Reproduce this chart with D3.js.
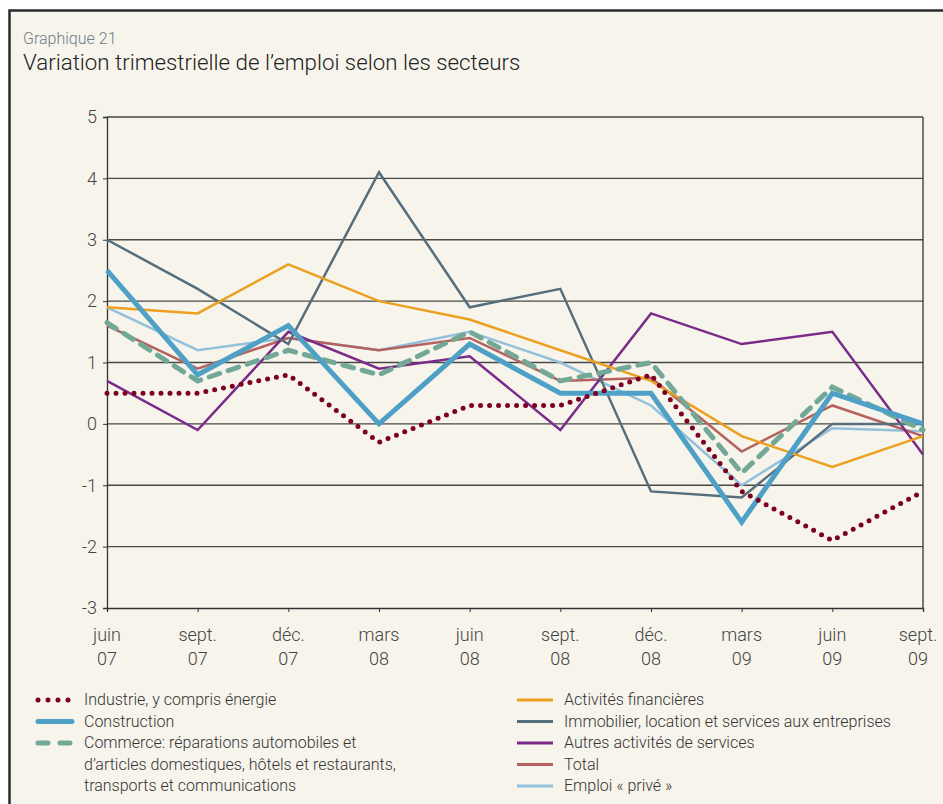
<!DOCTYPE html>
<html>
<head>
<meta charset="utf-8">
<script src="https://cdn.jsdelivr.net/npm/d3@7"></script>
<style>
  body { margin: 0; background: #fff; }
  svg text { font-family: Roboto, "Noto Sans", sans-serif; font-weight: 300; }
</style>
</head>
<body>
<svg class="viz"></svg>
<script>
var width = 943,
  height = 804;

var months = ["juin", "sept.", "déc.", "mars", "juin", "sept.", "déc.", "mars", "juin", "sept."];
var years = ["07", "07", "07", "08", "08", "08", "08", "09", "09", "09"];
var y_ticks = [5, 4, 3, 2, 1, 0, -1, -2, -3];

// series values, one per quarter
var industrie = [0.5, 0.5, 0.8, -0.3, 0.3, 0.3, 0.8, -1.1, -1.9, -1.1];
var construction = [2.5, 0.8, 1.6, 0.0, 1.3, 0.5, 0.5, -1.6, 0.5, 0.0];
var commerce = [1.65, 0.7, 1.2, 0.8, 1.5, 0.7, 1.0, -0.8, 0.6, -0.1];
var financieres = [1.9, 1.8, 2.6, 2.0, 1.7, 1.2, 0.7, -0.2, -0.7, -0.2];
var immobilier = [3.0, 2.2, 1.3, 4.1, 1.9, 2.2, -1.1, -1.2, 0.0, 0.0];
var autres = [0.7, -0.1, 1.5, 0.9, 1.1, -0.1, 1.8, 1.3, 1.5, -0.5];
var total = [1.6, 0.9, 1.4, 1.2, 1.4, 0.7, 0.75, -0.45, 0.3, -0.2];
var prive = [1.9, 1.2, 1.4, 1.2, 1.5, 1.0, 0.3, -1.0, -0.07, -0.12];

var series = [
  { name: "Emploi « privé »", values: prive, color: "#93c1dc", w: 2.5 },
  { name: "Total", values: total, color: "#b5615f", w: 2.5 },
  { name: "Autres activités de services", values: autres, color: "#7a2a88", w: 2.5 },
  { name: "Immobilier, location et services aux entreprises", values: immobilier, color: "#566e7c", w: 2.5 },
  { name: "Activités financières", values: financieres, color: "#eba020", w: 2.5 },
  { name: "Commerce", values: commerce, color: "#73a897", w: 5, dash: "11,9" },
  { name: "Construction", values: construction, color: "#4ea0c6", w: 5 },
  { name: "Industrie", values: industrie, color: "#7c0022", w: 5, dash: "0,9" }
];

var legend_left = [
  { lines: ["Industrie, y compris énergie"], color: "#7c0022", w: 5, dash: "0,10", len: 32 },
  { lines: ["Construction"], color: "#4ea0c6", w: 5, round: true, len: 34 },
  { lines: ["Commerce: réparations automobiles et", "d’articles domestiques, hôtels et restaurants,", "transports et communications"], color: "#73a897", w: 5, dash: "10,12", len: 36 }
];
var legend_right = [
  { lines: ["Activités financières"], color: "#eba020", w: 3, len: 36 },
  { lines: ["Immobilier, location et services aux entreprises"], color: "#566e7c", w: 3, len: 36 },
  { lines: ["Autres activités de services"], color: "#7a2a88", w: 3, len: 36 },
  { lines: ["Total"], color: "#b5615f", w: 3, len: 36 },
  { lines: ["Emploi « privé »"], color: "#93c1dc", w: 3, len: 36 }
];

var svg = d3.select(".viz").attr("width", width).attr("height", height);

// outer panel
svg.append("rect")
  .attr("x", 9.5).attr("y", 10.5)
  .attr("width", width + 20).attr("height", height + 20)
  .attr("fill", "#f7f4ec")
  .attr("stroke", "#2b2b2b").attr("stroke-width", 2.5);

svg.append("text").attr("x", 23).attr("y", 44)
  .attr("fill", "#6e7d87").style("font-size", "16px")
  .text("Graphique 21");
svg.append("text").attr("x", 23).attr("y", 70)
  .attr("fill", "#222").style("font-size", "22.3px")
  .text("Variation trimestrielle de l’emploi selon les secteurs");

var plot_left = 107, plot_right = 923, plot_top = 117, plot_bottom = 608;

var x = d3.scalePoint().domain(d3.range(months.length)).range([plot_left, plot_right]);
var y = d3.scaleLinear().domain([-3, 5]).range([plot_bottom, plot_top]);

// grid
svg.append("g").selectAll("line").data(y_ticks.filter(d => d > -3)).enter()
  .append("line")
  .attr("x1", plot_left).attr("x2", plot_right)
  .attr("y1", d => y(d)).attr("y2", d => y(d))
  .attr("stroke", "#4a4845").attr("stroke-width", 1.3);

// right border
svg.append("line").attr("x1", plot_right).attr("x2", plot_right)
  .attr("y1", plot_top).attr("y2", plot_bottom)
  .attr("stroke", "#333").attr("stroke-width", 1.3);

var yAxis = svg.append("g").attr("transform", "translate(" + plot_left + ",0)")
  .call(d3.axisLeft(y).tickValues(y_ticks).tickSize(4).tickPadding(6).tickFormat(d => d < 0 ? "-" + Math.abs(d) : d));
yAxis.select(".domain").attr("stroke", "#333").attr("stroke-width", 1.3);
yAxis.selectAll(".tick line").attr("stroke", "#333");
yAxis.selectAll(".tick text").attr("fill", "#444").style("font-size", "18px")
  .style("font-family", "Roboto, sans-serif").style("font-weight", 300);

var xAxis = svg.append("g").attr("transform", "translate(0," + plot_bottom + ")")
  .call(d3.axisBottom(x).tickSize(4).tickFormat(""));
xAxis.select(".domain").attr("stroke", "#333").attr("stroke-width", 1.3);
xAxis.selectAll(".tick line").attr("stroke", "#333");

var xl = svg.append("g").selectAll("text").data(months).enter()
  .append("text")
  .attr("text-anchor", "middle")
  .attr("fill", "#444").style("font-size", "18px")
  .attr("x", (d, i) => x(i) - (i == months.length - 1 ? 5 : 0));
xl.append("tspan").attr("y", 641).text(d => d);
xl.append("tspan").attr("y", 665)
  .attr("x", (d, i) => x(i) - (i == months.length - 1 ? 5 : 0))
  .text((d, i) => years[i]);

var line = d3.line().x((d, i) => x(i)).y(d => y(d));

svg.append("g").selectAll("path").data(series).enter()
  .append("path")
  .attr("d", d => line(d.values))
  .attr("fill", "none")
  .attr("stroke", d => d.color)
  .attr("stroke-width", d => d.w)
  .attr("stroke-dasharray", d => d.dash || null)
  .attr("stroke-linecap", d => d.dash ? "round" : "butt")
  .attr("stroke-linejoin", "miter");

function draw_legend(items, mx, tx, y0) {
  var row = y0;
  items.forEach(function(it) {
    svg.append("line")
      .attr("x1", mx).attr("x2", mx + it.len)
      .attr("y1", row).attr("y2", row)
      .attr("stroke", it.color).attr("stroke-width", it.w)
      .attr("stroke-dasharray", it.dash || null)
      .attr("stroke-linecap", it.dash || it.round ? "round" : "butt");
    it.lines.forEach(function(t, j) {
      svg.append("text").attr("x", tx).attr("y", row + 5 + j * 21.5)
        .attr("fill", "#333").style("font-size", "16px").text(t);
    });
    row += 21.5 * it.lines.length;
  });
}
draw_legend(legend_left, 38, 84, 700);
draw_legend(legend_right, 517, 564, 700);
</script>
</body>
</html>
